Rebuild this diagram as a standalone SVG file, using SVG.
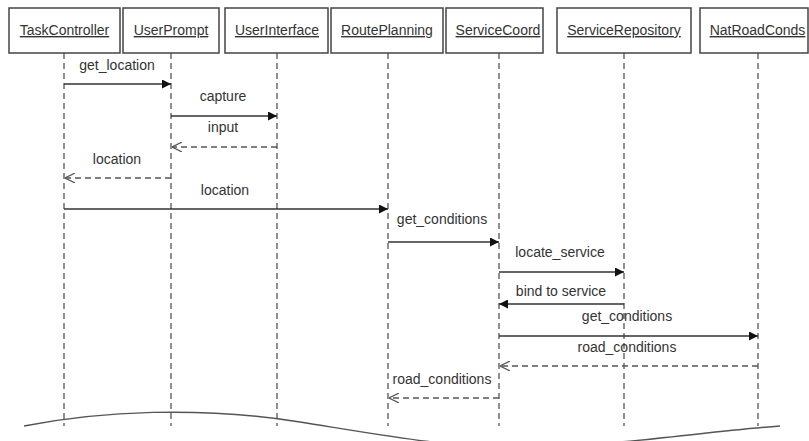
<svg xmlns="http://www.w3.org/2000/svg" width="809" height="441" viewBox="0 0 809 441">
  <style>
    .box { fill: #ffffff; stroke: #444444; stroke-width: 1.5; }
    .name { font-family: "Liberation Sans", Arial, sans-serif; font-size: 14px; fill: #333333; text-anchor: middle; text-decoration: underline; }
    .life { stroke: #555555; stroke-width: 1.3; stroke-dasharray: 6 4; fill: none; }
    .call { stroke: #333333; stroke-width: 1.3; fill: none; marker-end: url(#solid); }
    .ret { stroke: #555555; stroke-width: 1.3; stroke-dasharray: 6 4; fill: none; marker-end: url(#open); }
    .lbl { font-family: "Liberation Sans", Arial, sans-serif; font-size: 14px; fill: #333333; text-anchor: middle; }
    .cut { stroke: #555555; stroke-width: 1.5; fill: none; }
  </style>
  <defs>
    <marker id="solid" viewBox="0 0 10 10" refX="10" refY="5" markerWidth="9" markerHeight="9" markerUnits="userSpaceOnUse" orient="auto">
      <path d="M0,0 L10,5 L0,10 Z" fill="#111111"/>
    </marker>
    <marker id="open" viewBox="0 0 10 10" refX="10" refY="5" markerWidth="10" markerHeight="10" markerUnits="userSpaceOnUse" orient="auto">
      <path d="M0,0 L10,5 L0,10" fill="none" stroke="#555555" stroke-width="1.2"/>
    </marker>
  </defs>

  <rect width="809" height="441" fill="#ffffff"/>

  <!-- lifelines -->
  <g id="lifelines">
    <line class="life" x1="64" y1="53" x2="64" y2="426"/>
    <line class="life" x1="171" y1="53" x2="171" y2="426"/>
    <line class="life" x1="277" y1="53" x2="277" y2="426"/>
    <line class="life" x1="388" y1="53" x2="388" y2="426"/>
    <line class="life" x1="499" y1="53" x2="499" y2="426"/>
    <line class="life" x1="624" y1="53" x2="624" y2="426"/>
    <line class="life" x1="758" y1="53" x2="758" y2="426"/>
  </g>

  <!-- participants -->
  <g id="TaskController">
    <rect class="box" x="9" y="8" width="111" height="45"/>
    <text class="name" x="64.5" y="35">TaskController</text>
  </g>
  <g id="UserPrompt">
    <rect class="box" x="123" y="8" width="96" height="45"/>
    <text class="name" x="171" y="35">UserPrompt</text>
  </g>
  <g id="UserInterface">
    <rect class="box" x="225" y="8" width="103" height="45"/>
    <text class="name" x="277" y="35">UserInterface</text>
  </g>
  <g id="RoutePlanning">
    <rect class="box" x="331" y="8" width="112" height="45"/>
    <text class="name" x="387" y="35">RoutePlanning</text>
  </g>
  <g id="ServiceCoord">
    <rect class="box" x="446" y="8" width="97" height="45"/>
    <text class="name" x="498" y="35">ServiceCoord</text>
  </g>
  <g id="ServiceRepository">
    <rect class="box" x="557" y="8" width="134" height="45"/>
    <text class="name" x="624" y="35">ServiceRepository</text>
  </g>
  <g id="NatRoadConds">
    <rect class="box" x="700" y="8" width="108" height="45"/>
    <text class="name" x="757.5" y="35">NatRoadConds</text>
  </g>

  <!-- messages -->
  <g id="connectors">
    <line class="call" x1="64" y1="84" x2="171" y2="84"/>
    <text class="lbl" x="117" y="70">get_location</text>

    <line class="call" x1="171" y1="116" x2="277" y2="116"/>
    <text class="lbl" x="223" y="101">capture</text>

    <line class="ret" x1="277" y1="147" x2="172" y2="147"/>
    <text class="lbl" x="223" y="132">input</text>

    <line class="ret" x1="171" y1="178" x2="65" y2="178"/>
    <text class="lbl" x="117" y="164">location</text>

    <line class="call" x1="64" y1="209" x2="388" y2="209"/>
    <text class="lbl" x="225" y="195">location</text>

    <line class="call" x1="388" y1="242" x2="499" y2="242"/>
    <text class="lbl" x="442" y="224">get_conditions</text>

    <line class="call" x1="499" y1="272" x2="624" y2="272"/>
    <text class="lbl" x="560" y="257">locate_service</text>

    <line class="call" x1="624" y1="304" x2="499" y2="304"/>
    <text class="lbl" x="561" y="296">bind to service</text>

    <line class="call" x1="499" y1="336" x2="758" y2="336"/>
    <text class="lbl" x="627" y="321">get_conditions</text>

    <line class="ret" x1="758" y1="366" x2="500" y2="366"/>
    <text class="lbl" x="627" y="352">road_conditions</text>

    <line class="ret" x1="499" y1="398" x2="389" y2="398"/>
    <text class="lbl" x="442" y="384">road_conditions</text>
  </g>

  <!-- break line across the bottom -->
  <path class="cut" d="M24,426 C100,411 200,406 300,422 S440,446 520,447 S700,432 780,426"/>
</svg>
